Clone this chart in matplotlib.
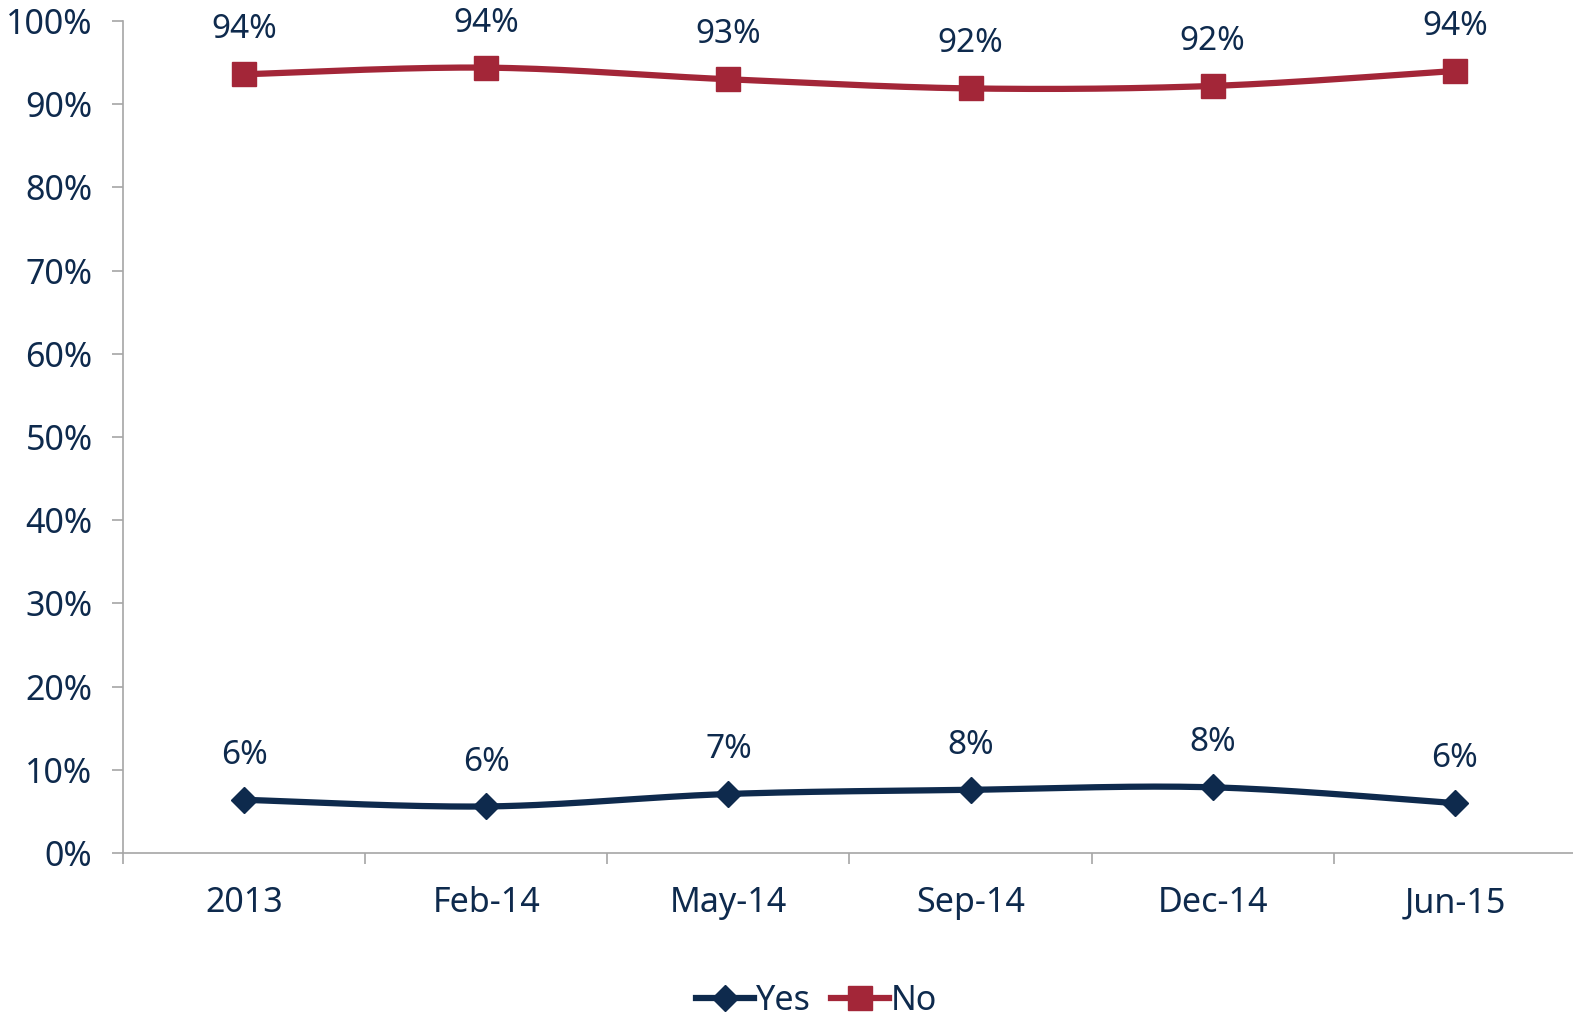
import numpy as np
import matplotlib
matplotlib.use("Agg")
import matplotlib.pyplot as plt
from matplotlib.ticker import PercentFormatter

# data
categories = ["2013", "Feb-14", "May-14", "Sep-14", "Dec-14", "Jun-15"]
yes = [6.4, 5.6, 7.1, 7.6, 7.9, 6.0]
no = [93.6, 94.4, 93.0, 91.9, 92.2, 94.0]
yes_labels = ["6%", "6%", "7%", "8%", "8%", "6%"]
no_labels = ["94%", "94%", "93%", "92%", "92%", "94%"]

navy = "#0E2A4D"
red = "#A32638"
txt = "#0E2A4D"

plt.rcParams["font.family"] = ["Noto Sans", "DejaVu Sans"]


def smooth(x, y, n=30):
    # catmull-rom curve through the points, for drawing only
    x = np.asarray(x, float)
    y = np.asarray(y, float)
    px = np.concatenate([[x[0]], x, [x[-1]]])
    py = np.concatenate([[y[0]], y, [y[-1]]])
    xs, ys = [], []
    t = np.linspace(0, 1, n)
    for i in range(1, len(px) - 2):
        for p, out in ((px, xs), (py, ys)):
            p0, p1, p2, p3 = p[i - 1], p[i], p[i + 1], p[i + 2]
            out.extend(0.5 * ((2 * p1) + (-p0 + p2) * t
                              + (2 * p0 - 5 * p1 + 4 * p2 - p3) * t ** 2
                              + (-p0 + 3 * p1 - 3 * p2 + p3) * t ** 3))
    return np.array(xs), np.array(ys)


fig = plt.figure(figsize=(15.73, 10.21), dpi=100)
ax = fig.add_axes([0.0782, 0.1645, 0.9237, 0.8149])

x = np.arange(len(categories))
for vals, labs, col, mk, ms in ((yes, yes_labels, navy, "D", 13),
                                (no, no_labels, red, "s", 17)):
    sx, sy = smooth(x, vals)
    ax.plot(sx, sy, color=col, lw=4.5, solid_capstyle="round", zorder=2)
    ax.plot(x, vals, linestyle="none", marker=mk, markersize=ms, color=col, zorder=3)
    for xi, v, lab in zip(x, vals, labs):
        ax.annotate(lab, (xi, v), xytext=(0, 32), textcoords="offset points",
                    ha="center", va="center", fontsize=24, color=txt)

# legend proxies
ax.plot([], [], color=navy, lw=4.5, marker="D", markersize=13, label="Yes")
ax.plot([], [], color=red, lw=4.5, marker="s", markersize=17, label="No")

ax.set_xlim(-0.5, 5.5)
ax.set_ylim(0, 100)
ax.set_yticks(np.arange(0, 101, 10))
ax.yaxis.set_major_formatter(PercentFormatter(decimals=0))
ax.set_xticks(x)
ax.set_xticklabels(categories)
ax.set_xticks(np.arange(-0.5, 5.0, 1), minor=True)
ax.tick_params(axis="x", which="major", length=0, pad=24, labelsize=24.5, labelcolor=txt)
ax.tick_params(axis="x", which="minor", length=8, width=1.2, color="#A6A6A6", direction="out")
ax.tick_params(axis="y", length=8, width=1.2, color="#A6A6A6", pad=14, labelsize=24.5, labelcolor=txt)

for s in ("top", "right"):
    ax.spines[s].set_visible(False)
for s in ("left", "bottom"):
    ax.spines[s].set_color("#A6A6A6")
    ax.spines[s].set_linewidth(1.2)

handles, labels = ax.get_legend_handles_labels()
handles, labels = handles[-2:], labels[-2:]
fig.legend(handles, labels, loc="center", bbox_to_anchor=(0.519, 0.02), ncol=2,
           frameon=False, fontsize=24.5, labelcolor=txt, handlelength=1.7,
           handletextpad=0.05, columnspacing=0.6, borderpad=0.1)

fig.savefig("out.png", dpi=100)
